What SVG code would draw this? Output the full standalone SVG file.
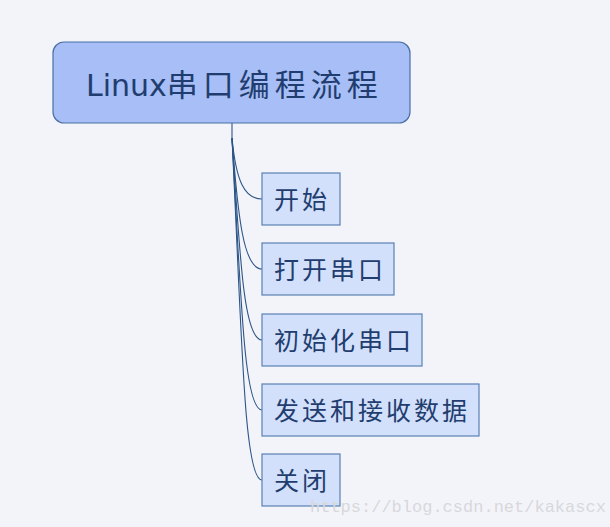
<svg xmlns="http://www.w3.org/2000/svg" width="610" height="527" viewBox="0 0 610 527">
<style>
.bg{fill:#f3f4f9}
.root{fill:#a7bef6;stroke:#4a6fa5;stroke-width:1.2}
.child{fill:#d2e0fb;stroke:#5b80b3;stroke-width:1.2}
.t{font-family:"DejaVu Sans","Noto Sans CJK SC",sans-serif;fill:#1f3d6e}
.ct{font-size:25px;letter-spacing:3px}
.conn{fill:none;stroke:#2c5587;stroke-width:1.1}
</style>
<rect class="bg" x="0" y="0" width="610" height="527"/>
<g id="connectors">
<path class="conn" d="M232,123 V138"/>
<path class="conn" d="M232,138 C236,180 244,199 262,199"/>
<path class="conn" d="M232,138 C238,220 244,269 262,269"/>
<path class="conn" d="M232,138 C240,260 244,340 262,340"/>
<path class="conn" d="M232,138 C241,300 244,410 262,410"/>
<path class="conn" d="M232,138 C242,340 244,480 262,480"/>
</g>
<g id="root">
<rect class="root" x="53" y="42" width="357" height="81" rx="11"/>
<text class="t" x="86" y="96" font-size="30">Linux<tspan font-size="31" letter-spacing="5">串口编程流程</tspan></text>
</g>
<g id="n1">
<rect class="child" x="262" y="173" width="78" height="52"/>
<text class="t ct" x="274" y="209">开始</text>
</g>
<g id="n2">
<rect class="child" x="262" y="243" width="132" height="52"/>
<text class="t ct" x="274" y="279">打开串口</text>
</g>
<g id="n3">
<rect class="child" x="262" y="314" width="160" height="52"/>
<text class="t ct" x="274" y="350">初始化串口</text>
</g>
<g id="n4">
<rect class="child" x="262" y="384" width="217" height="52"/>
<text class="t ct" x="274" y="420">发送和接收数据</text>
</g>
<g id="n5">
<rect class="child" x="262" y="454" width="78" height="52"/>
<text class="t ct" x="274" y="490">关闭</text>
</g>
<text x="310" y="512" font-family="Liberation Mono, monospace" font-size="17" fill="#d8d8dc">https://blog.csdn.net/kakascx</text>
</svg>
